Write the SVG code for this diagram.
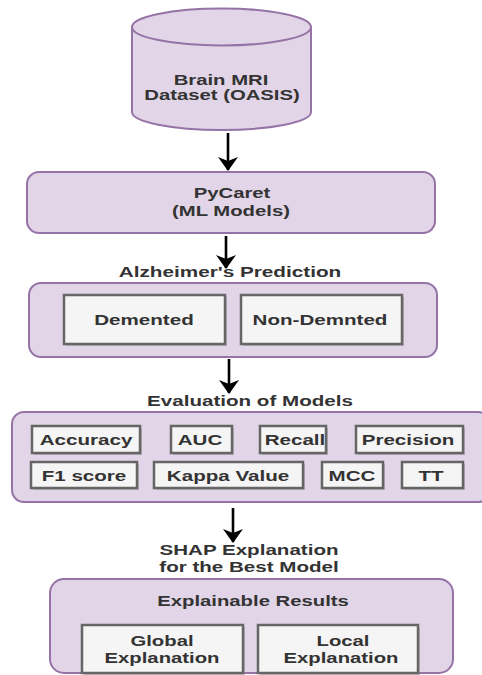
<svg xmlns="http://www.w3.org/2000/svg" width="482" height="675" viewBox="0 0 482 675">
<defs>
<style>
.grp{fill:#e1d5e7;stroke:#9673a6;stroke-width:2}
.box{fill:#f5f5f5;stroke:#666;stroke-width:2.5}
.sh{fill:#888;opacity:0.45}
.t{font-family:"Liberation Sans",Arial,sans-serif;font-weight:bold;font-size:14px;fill:#333;text-anchor:middle}
.c{stroke:#000;stroke-width:2.6;fill:none;marker-end:url(#ah)}
</style>
<marker id="ah" viewBox="0 0 14 20" refX="13" refY="10" markerWidth="14" markerHeight="20" markerUnits="userSpaceOnUse" orient="auto">
<path d="M0,0 L14,10 L0,20 L4,10 Z" fill="#000"/>
</marker>
</defs>
<rect width="482" height="675" fill="#fff"/>

<g id="dataset">
<path class="grp" d="M132,27 A89.5,18.5 0 0 1 311,27 L311,112 A89.5,18 0 0 1 132,112 Z"/>
<path class="grp" fill="none" d="M132,27 A89.5,18.5 0 0 0 311,27"/>
<text class="t" transform="translate(221,85) scale(1.45,1)">Brain MRI</text>
<text class="t" transform="translate(222,100) scale(1.45,1)">Dataset (OASIS)</text>
</g>

<g id="pycaret">
<rect class="grp" x="27" y="172" width="408" height="61" rx="12"/>
<text class="t" transform="translate(232,198) scale(1.45,1)">PyCaret</text>
<text class="t" transform="translate(231,216) scale(1.45,1)">(ML Models)</text>
</g>

<g id="prediction">
<text class="t" transform="translate(230,277) scale(1.48,1)">Alzheimer's Prediction</text>
<rect class="grp" x="29" y="283" width="408" height="74" rx="12"/>
<g id="demented">
<rect class="sh" x="66" y="297" width="161" height="49"/>
<rect class="box" x="64" y="295" width="161" height="49"/>
<text class="t" transform="translate(144,325) scale(1.47,1)">Demented</text>
</g>
<g id="nondemented">
<rect class="sh" x="243" y="297" width="161" height="49"/>
<rect class="box" x="241" y="295" width="161" height="49"/>
<text class="t" transform="translate(320,325) scale(1.47,1)">Non-Demnted</text>
</g>
</g>

<g id="evaluation">
<text class="t" transform="translate(250,406) scale(1.47,1)">Evaluation of Models</text>
<rect class="grp" x="12" y="412" width="478" height="90" rx="12"/>
<g id="accuracy"><rect class="sh" x="34" y="428" width="108" height="27"/><rect class="box" x="32" y="426" width="108" height="27"/><text class="t" transform="translate(86,445) scale(1.47,1)">Accuracy</text></g>
<g id="auc"><rect class="sh" x="173" y="428" width="61" height="27"/><rect class="box" x="171" y="426" width="61" height="27"/><text class="t" transform="translate(200,445) scale(1.47,1)">AUC</text></g>
<g id="recall"><rect class="sh" x="262" y="428" width="66" height="27"/><rect class="box" x="260" y="426" width="66" height="27"/><text class="t" transform="translate(295,445) scale(1.47,1)">Recall</text></g>
<g id="precision"><rect class="sh" x="358" y="428" width="107" height="27"/><rect class="box" x="356" y="426" width="107" height="27"/><text class="t" transform="translate(408,445) scale(1.47,1)">Precision</text></g>
<g id="f1"><rect class="sh" x="33" y="464" width="106" height="26"/><rect class="box" x="31" y="462" width="106" height="26"/><text class="t" transform="translate(84,481) scale(1.47,1)">F1 score</text></g>
<g id="kappa"><rect class="sh" x="156" y="464" width="149" height="26"/><rect class="box" x="154" y="462" width="149" height="26"/><text class="t" transform="translate(228,481) scale(1.47,1)">Kappa Value</text></g>
<g id="mcc"><rect class="sh" x="324" y="464" width="61" height="26"/><rect class="box" x="322" y="462" width="61" height="26"/><text class="t" transform="translate(352,481) scale(1.47,1)">MCC</text></g>
<g id="tt"><rect class="sh" x="404" y="464" width="61" height="26"/><rect class="box" x="402" y="462" width="61" height="26"/><text class="t" transform="translate(431,481) scale(1.47,1)">TT</text></g>
</g>

<g id="shap">
<text class="t" transform="translate(249,555) scale(1.47,1)">SHAP Explanation</text>
<text class="t" transform="translate(249,572) scale(1.47,1)">for the Best Model</text>
</g>

<g id="results">
<rect class="grp" x="50" y="579" width="403" height="94" rx="14"/>
<text class="t" transform="translate(253,606) scale(1.45,1)">Explainable Results</text>
<g id="global">
<rect class="sh" x="84" y="627" width="161" height="48"/>
<rect class="box" x="82" y="625" width="161" height="48"/>
<text class="t" transform="translate(162,646) scale(1.45,1)">Global</text>
<text class="t" transform="translate(162,663) scale(1.45,1)">Explanation</text>
</g>
<g id="local">
<rect class="sh" x="260" y="627" width="160" height="48"/>
<rect class="box" x="258" y="625" width="160" height="48"/>
<text class="t" transform="translate(343,646) scale(1.45,1)">Local</text>
<text class="t" transform="translate(341,663) scale(1.45,1)">Explanation</text>
</g>
</g>

<g id="connectors">
<path class="c" d="M228,133 L228,170"/>
<path class="c" d="M226,236 L226,268"/>
<path class="c" d="M229,359 L229,393"/>
<path class="c" d="M233,508 L233,542"/>
</g>
</svg>
